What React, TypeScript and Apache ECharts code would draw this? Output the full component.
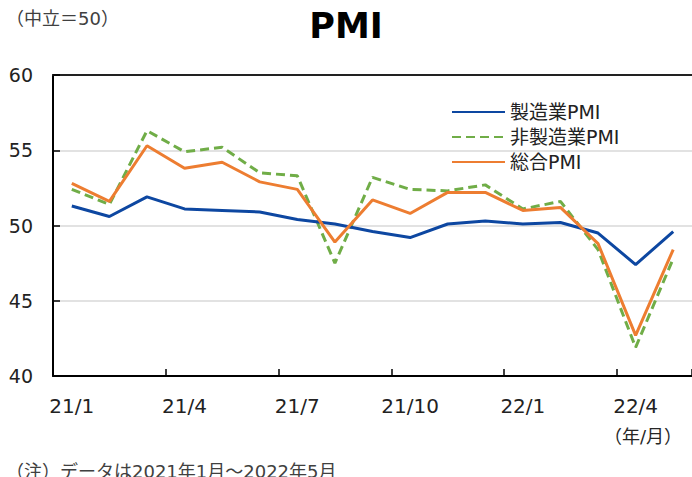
import React, { useEffect, useRef } from "react";
import * as echarts from "echarts";

const categories = [
  "21/1", "21/2", "21/3", "21/4", "21/5", "21/6", "21/7", "21/8", "21/9",
  "21/10", "21/11", "21/12", "22/1", "22/2", "22/3", "22/4", "22/5",
];
const manufacturing = [51.3, 50.6, 51.9, 51.1, 51.0, 50.9, 50.4, 50.1, 49.6, 49.2, 50.1, 50.3, 50.1, 50.2, 49.5, 47.4, 49.6];
const nonManufacturing = [52.4, 51.4, 56.3, 54.9, 55.2, 53.5, 53.3, 47.5, 53.2, 52.4, 52.3, 52.7, 51.1, 51.6, 48.4, 41.9, 47.8];
const composite = [52.8, 51.6, 55.3, 53.8, 54.2, 52.9, 52.4, 48.9, 51.7, 50.8, 52.2, 52.2, 51.0, 51.2, 48.8, 42.7, 48.4];
const seriesNames = ["製造業PMI", "非製造業PMI", "総合PMI"];

const FONT = "'DejaVu Sans', 'Noto Sans CJK JP', sans-serif";

export default function App() {
  const ref = useRef<HTMLDivElement>(null);
  useEffect(() => {
    if (!ref.current) return;
    const chart = echarts.init(ref.current, null, { renderer: "svg" });
    chart.setOption({
      animation: false,
      backgroundColor: "#ffffff",
      textStyle: { fontFamily: FONT },
      title: {
        text: "PMI",
        left: "center",
        top: 3,
        textStyle: { fontFamily: FONT, fontSize: 35, fontWeight: "bold", color: "#000" },
      },
      graphic: [
        {
          type: "text",
          left: 6,
          top: 9,
          style: { text: "（中立＝50）", font: `18px ${FONT}`, fill: "#404040" },
        },
        {
          type: "text",
          left: 604,
          top: 427,
          style: { text: "（年/月）", font: `18px ${FONT}`, fill: "#262626" },
        },
        {
          type: "text",
          left: 6,
          top: 462,
          style: { text: "（注）データは2021年1月～2022年5月", font: `18px ${FONT}`, fill: "#404040" },
        },
      ],
      legend: {
        orient: "vertical",
        left: 446,
        top: 97,
        itemWidth: 53,
        itemHeight: 20,
        itemGap: 5,
        data: seriesNames,
        itemStyle: { opacity: 0 },
        textStyle: { fontFamily: FONT, fontSize: 19, color: "#222", lineHeight: 20 },
      },
      grid: { left: 53, right: -8, top: 75, bottom: 101 },
      xAxis: [
        {
          type: "category",
          data: categories,
          boundaryGap: true,
          axisLine: { show: true, lineStyle: { color: "#000", width: 2 } },
          axisTick: { show: true, inside: true, length: 7, interval: 2, lineStyle: { color: "#000", width: 1.5 } },
          axisLabel: { interval: 2, margin: 20, fontSize: 20, color: "#222", fontFamily: FONT },
          splitLine: { show: false },
        },
        {
          type: "category",
          data: categories,
          position: "top",
          axisLine: { show: true, lineStyle: { color: "#222", width: 2 } },
          axisTick: { show: false },
          axisLabel: { show: false },
        },
      ],
      yAxis: {
        type: "value",
        min: 40,
        max: 60,
        interval: 5,
        axisLine: { show: true, lineStyle: { color: "#000", width: 2 } },
        axisTick: { show: true, inside: true, length: 7, lineStyle: { color: "#000", width: 1.5 } },
        axisLabel: { margin: 20, fontSize: 19, color: "#222", fontFamily: FONT },
        splitLine: { show: true, lineStyle: { color: "#d9d9d9", width: 1.5 } },
      },
      series: [
        {
          name: seriesNames[0],
          type: "line",
          data: manufacturing,
          symbol: "none",
          lineStyle: { color: "#0d47a1", width: 3 },
          itemStyle: { color: "#0d47a1" },
          z: 3,
        },
        {
          name: seriesNames[1],
          type: "line",
          data: nonManufacturing,
          symbol: "none",
          lineStyle: { color: "#70ad47", width: 3, type: [9, 5] },
          itemStyle: { color: "#70ad47" },
          z: 2,
        },
        {
          name: seriesNames[2],
          type: "line",
          data: composite,
          symbol: "none",
          lineStyle: { color: "#ed7d31", width: 3 },
          itemStyle: { color: "#ed7d31" },
          z: 4,
        },
      ],
    });
    return () => chart.dispose();
  }, []);
  return (
    <div
      ref={ref}
      style={{ position: "absolute", left: 0, top: 0, width: 692, height: 477 }}
    />
  );
}
